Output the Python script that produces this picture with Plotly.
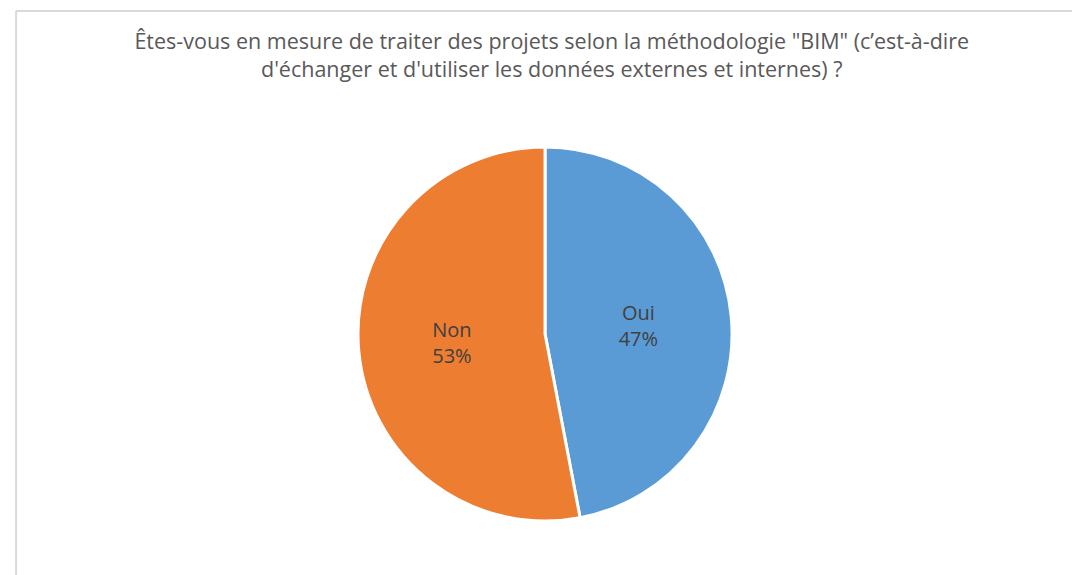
import plotly.graph_objects as go

labels = ["Oui", "Non"]
values = [47, 53]
colors = ["#5b9bd5", "#ed7d31"]

title_text = (
    "Êtes-vous en mesure de traiter des projets selon la méthodologie \"BIM\" (c’est-à-dire"
    "<br>d'échanger et d'utiliser les données externes et internes) ?"
)

fig = go.Figure(
    go.Pie(
        labels=labels,
        values=values,
        sort=False,
        direction="clockwise",
        rotation=0,
        marker=dict(colors=colors, line=dict(color="white", width=3)),
        texttemplate="%{label}<br>%{percent:.0%}",
        textposition="inside",
        insidetextorientation="horizontal",
        textfont=dict(family="Open Sans", size=20, color="#404040"),
        domain=dict(x=[0.3213, 0.6732], y=[0.1078, 0.7583]),
        showlegend=False,
        hoverinfo="label+percent",
    )
)

fig.update_layout(
    width=1080,
    height=575,
    margin=dict(l=0, r=0, t=0, b=0),
    paper_bgcolor="white",
    plot_bgcolor="white",
    font=dict(family="Open Sans", color="#595959"),
    title=dict(
        text=title_text,
        x=0.5035,
        xanchor="center",
        y=0.929,
        yanchor="top",
        font=dict(family="Open Sans", size=21.5, color="#595959"),
    ),
    shapes=[
        dict(type="line", xref="paper", yref="paper", x0=0.0075, x1=1.0, y0=0.995, y1=0.995,
             line=dict(color="#d9d9d9", width=2)),
        dict(type="line", xref="paper", yref="paper", x0=0.0075, x1=0.0075, y0=0.0, y1=0.995,
             line=dict(color="#d9d9d9", width=2)),
    ],
)

fig.write_html("out.html")
